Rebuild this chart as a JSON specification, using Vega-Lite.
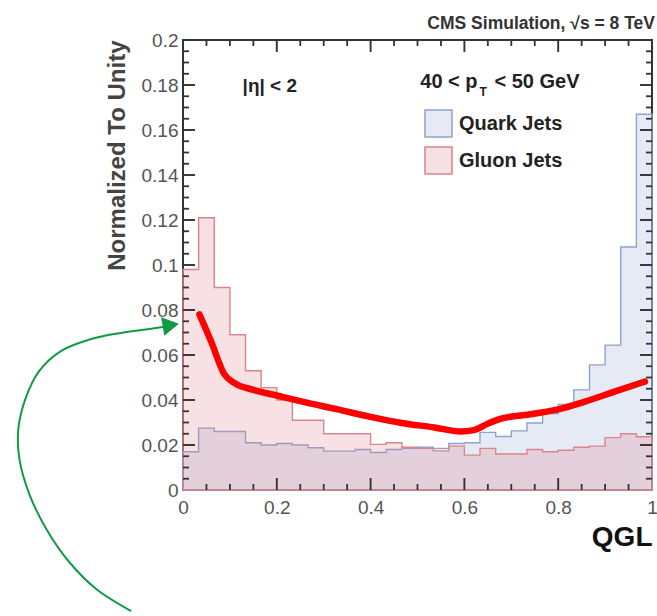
{
  "$schema": "https://vega.github.io/schema/vega-lite/v6.json",
  "autosize": {"type": "none"},
  "padding": {"left": 183, "top": 40, "right": 5, "bottom": 126},
  "width": 469,
  "height": 450,
  "background": "white",
  "title": {"text": "CMS Simulation, √s = 8 TeV", "anchor": "end", "fontSize": 17.5, "fontWeight": "bold", "color": "#333", "offset": 5, "dx": -3, "dy": 6, "font": "Liberation Sans"},
  "config": {
    "view": {"stroke": "#333", "strokeWidth": 2},
    "font": "Liberation Sans",
    "axis": {"grid": false}
  },
  "datasets": {
    "hist": [
      {"qgl": 0, "Quark Jets": 0.017, "Gluon Jets": 0.098},
      {"qgl": 0.0333, "Quark Jets": 0.0275, "Gluon Jets": 0.121},
      {"qgl": 0.0667, "Quark Jets": 0.026, "Gluon Jets": 0.09},
      {"qgl": 0.1, "Quark Jets": 0.026, "Gluon Jets": 0.069},
      {"qgl": 0.1333, "Quark Jets": 0.021, "Gluon Jets": 0.053},
      {"qgl": 0.1667, "Quark Jets": 0.02, "Gluon Jets": 0.0455},
      {"qgl": 0.2, "Quark Jets": 0.0207, "Gluon Jets": 0.04},
      {"qgl": 0.2333, "Quark Jets": 0.02, "Gluon Jets": 0.031},
      {"qgl": 0.2667, "Quark Jets": 0.0188, "Gluon Jets": 0.031},
      {"qgl": 0.3, "Quark Jets": 0.0173, "Gluon Jets": 0.025},
      {"qgl": 0.3333, "Quark Jets": 0.0173, "Gluon Jets": 0.025},
      {"qgl": 0.3667, "Quark Jets": 0.018, "Gluon Jets": 0.025},
      {"qgl": 0.4, "Quark Jets": 0.0167, "Gluon Jets": 0.0203},
      {"qgl": 0.4333, "Quark Jets": 0.018, "Gluon Jets": 0.021},
      {"qgl": 0.4667, "Quark Jets": 0.0185, "Gluon Jets": 0.019},
      {"qgl": 0.5, "Quark Jets": 0.019, "Gluon Jets": 0.0185},
      {"qgl": 0.5333, "Quark Jets": 0.0185, "Gluon Jets": 0.0174},
      {"qgl": 0.5667, "Quark Jets": 0.0207, "Gluon Jets": 0.0195},
      {"qgl": 0.6, "Quark Jets": 0.021, "Gluon Jets": 0.0155},
      {"qgl": 0.6333, "Quark Jets": 0.0256, "Gluon Jets": 0.0185},
      {"qgl": 0.6667, "Quark Jets": 0.0238, "Gluon Jets": 0.016},
      {"qgl": 0.7, "Quark Jets": 0.0263, "Gluon Jets": 0.016},
      {"qgl": 0.7333, "Quark Jets": 0.0298, "Gluon Jets": 0.018},
      {"qgl": 0.7667, "Quark Jets": 0.034, "Gluon Jets": 0.017},
      {"qgl": 0.8, "Quark Jets": 0.038, "Gluon Jets": 0.0177},
      {"qgl": 0.8333, "Quark Jets": 0.0445, "Gluon Jets": 0.019},
      {"qgl": 0.8667, "Quark Jets": 0.0556, "Gluon Jets": 0.0195},
      {"qgl": 0.9, "Quark Jets": 0.0644, "Gluon Jets": 0.0233},
      {"qgl": 0.9333, "Quark Jets": 0.108, "Gluon Jets": 0.025},
      {"qgl": 0.9667, "Quark Jets": 0.167, "Gluon Jets": 0.0237},
      {"qgl": 1, "Quark Jets": 0.167, "Gluon Jets": 0.0237}
    ],
    "curve": [
      {"qgl": 0.035, "frac": 0.078},
      {"qgl": 0.06, "frac": 0.066},
      {"qgl": 0.088, "frac": 0.0515},
      {"qgl": 0.11, "frac": 0.0475},
      {"qgl": 0.15, "frac": 0.0445},
      {"qgl": 0.2, "frac": 0.042},
      {"qgl": 0.25, "frac": 0.0395},
      {"qgl": 0.33, "frac": 0.0358},
      {"qgl": 0.4, "frac": 0.0325},
      {"qgl": 0.466, "frac": 0.0298},
      {"qgl": 0.536, "frac": 0.0278},
      {"qgl": 0.592, "frac": 0.026},
      {"qgl": 0.62, "frac": 0.0266},
      {"qgl": 0.65, "frac": 0.0295},
      {"qgl": 0.675, "frac": 0.0315},
      {"qgl": 0.745, "frac": 0.0338},
      {"qgl": 0.8, "frac": 0.0358},
      {"qgl": 0.857, "frac": 0.0393},
      {"qgl": 0.92, "frac": 0.0437},
      {"qgl": 0.985, "frac": 0.0482}
    ],
    "arrow": [
      {"i": 0, "qgl": -0.1106, "frac": -0.0538},
      {"i": 1, "qgl": -0.1851, "frac": -0.044},
      {"i": 2, "qgl": -0.2426, "frac": -0.032},
      {"i": 3, "qgl": -0.2915, "frac": -0.0173},
      {"i": 4, "qgl": -0.3277, "frac": -0.0018},
      {"i": 5, "qgl": -0.3489, "frac": 0.0138},
      {"i": 6, "qgl": -0.3511, "frac": 0.0271},
      {"i": 7, "qgl": -0.3362, "frac": 0.0404},
      {"i": 8, "qgl": -0.3064, "frac": 0.0529},
      {"i": 9, "qgl": -0.2596, "frac": 0.0618},
      {"i": 10, "qgl": -0.1957, "frac": 0.0671},
      {"i": 11, "qgl": -0.1319, "frac": 0.0698},
      {"i": 12, "qgl": -0.0574, "frac": 0.072},
      {"i": 13, "qgl": -0.035, "frac": 0.0728}
    ],
    "xMajor": [{"v": 0.2}, {"v": 0.4}, {"v": 0.6}, {"v": 0.8}],
    "xMinor": [{"v": 0.05}, {"v": 0.1}, {"v": 0.15}, {"v": 0.25}, {"v": 0.3}, {"v": 0.35}, {"v": 0.45}, {"v": 0.5}, {"v": 0.55}, {"v": 0.65}, {"v": 0.7}, {"v": 0.75}, {"v": 0.85}, {"v": 0.9}, {"v": 0.95}],
    "yMajor": [{"v": 0.02}, {"v": 0.04}, {"v": 0.06}, {"v": 0.08}, {"v": 0.1}, {"v": 0.12}, {"v": 0.14}, {"v": 0.16}, {"v": 0.18}],
    "yMinor": [{"v": 0.005}, {"v": 0.01}, {"v": 0.015}, {"v": 0.025}, {"v": 0.03}, {"v": 0.035}, {"v": 0.045}, {"v": 0.05}, {"v": 0.055}, {"v": 0.065}, {"v": 0.07}, {"v": 0.075}, {"v": 0.085}, {"v": 0.09}, {"v": 0.095}, {"v": 0.105}, {"v": 0.11}, {"v": 0.115}, {"v": 0.125}, {"v": 0.13}, {"v": 0.135}, {"v": 0.145}, {"v": 0.15}, {"v": 0.155}, {"v": 0.165}, {"v": 0.17}, {"v": 0.175}, {"v": 0.185}, {"v": 0.19}, {"v": 0.195}]
  },
  "resolve": {"scale": {"x": "independent", "y": "independent"}, "axis": {"x": "independent", "y": "independent"}},
  "layer": [
    {
      "data": {"name": "hist"},
      "transform": [{"fold": ["Quark Jets", "Gluon Jets"], "as": ["jet", "frac"]}],
      "mark": {"type": "area", "interpolate": "step-after", "strokeWidth": 1.4},
      "encoding": {
        "x": {"field": "qgl", "type": "quantitative", "scale": {"domain": [0, 1], "nice": false, "zero": false},
          "axis": {"orient": "bottom", "values": [0, 0.2, 0.4, 0.6, 0.8, 1], "format": "~g", "ticks": false, "domain": false, "grid": false, "labelFlush": false, "labelFontSize": 19, "labelColor": "#555", "labelPadding": 8, "title": "QGL", "titleAnchor": "end", "titleFontSize": 28, "titleFontWeight": "bold", "titleColor": "#111", "titlePadding": 6}},
        "y": {"field": "frac", "type": "quantitative", "stack": null, "scale": {"domain": [0, 0.2], "nice": false, "zero": false},
          "axis": {"orient": "left", "values": [0, 0.02, 0.04, 0.06, 0.08, 0.1, 0.12, 0.14, 0.16, 0.18, 0.2], "format": "~g", "ticks": false, "domain": false, "grid": false, "labelFlush": false, "labelFontSize": 19, "labelColor": "#555", "labelPadding": 5, "title": "Normalized To Unity", "titleAnchor": "end", "titleFontSize": 24, "titleFontWeight": "bold", "titleColor": "#444", "titlePadding": 12}},
        "fill": {"field": "jet", "type": "nominal", "scale": {"domain": ["Quark Jets", "Gluon Jets"], "range": ["rgba(140,160,205,0.22)", "rgba(222,120,130,0.22)"]},
          "legend": {"title": null, "orient": "none", "legendX": 241, "legendY": 69, "symbolType": "square", "symbolSize": 729, "symbolStrokeWidth": 1.5, "labelFontSize": 20, "labelFontWeight": "bold", "labelColor": "#222", "rowPadding": 4, "labelOffset": 6, "padding": 0}},
        "stroke": {"field": "jet", "type": "nominal", "scale": {"domain": ["Quark Jets", "Gluon Jets"], "range": ["#8fa3cc", "#d9858c"]},
          "legend": {"title": null, "orient": "none", "legendX": 241, "legendY": 69, "symbolType": "square", "symbolSize": 729, "symbolStrokeWidth": 1.5, "labelFontSize": 20, "labelFontWeight": "bold", "labelColor": "#222", "rowPadding": 4, "labelOffset": 6, "padding": 0}}
      }
    },
    {
      "data": {"name": "yMajor"},
      "mark": {"type": "point", "shape": "M0,-0.16L2,-0.16L2,0.16L0,0.16Z", "size": 144, "filled": true, "color": "#333", "opacity": 1},
      "encoding": {
        "y": {"field": "v", "type": "quantitative", "scale": {"domain": [0, 0.2], "nice": false, "zero": false}, "axis": null},
        "x": {"datum": 0, "type": "quantitative", "scale": {"domain": [0, 1], "nice": false, "zero": false}, "axis": null}
      }
    },
    {
      "data": {"name": "yMajor"},
      "mark": {"type": "point", "shape": "M0,-0.16L-2,-0.16L-2,0.16L0,0.16Z", "size": 144, "filled": true, "color": "#333", "opacity": 1},
      "encoding": {
        "y": {"field": "v", "type": "quantitative", "scale": {"domain": [0, 0.2], "nice": false, "zero": false}, "axis": null},
        "x": {"datum": 1, "type": "quantitative", "scale": {"domain": [0, 1], "nice": false, "zero": false}, "axis": null}
      }
    },
    {
      "data": {"name": "yMinor"},
      "mark": {"type": "point", "shape": "M0,-0.3L2,-0.3L2,0.3L0,0.3Z", "size": 36, "filled": true, "color": "#333", "opacity": 1},
      "encoding": {
        "y": {"field": "v", "type": "quantitative", "scale": {"domain": [0, 0.2], "nice": false, "zero": false}, "axis": null},
        "x": {"datum": 0, "type": "quantitative", "scale": {"domain": [0, 1], "nice": false, "zero": false}, "axis": null}
      }
    },
    {
      "data": {"name": "yMinor"},
      "mark": {"type": "point", "shape": "M0,-0.3L-2,-0.3L-2,0.3L0,0.3Z", "size": 36, "filled": true, "color": "#333", "opacity": 1},
      "encoding": {
        "y": {"field": "v", "type": "quantitative", "scale": {"domain": [0, 0.2], "nice": false, "zero": false}, "axis": null},
        "x": {"datum": 1, "type": "quantitative", "scale": {"domain": [0, 1], "nice": false, "zero": false}, "axis": null}
      }
    },
    {
      "data": {"name": "xMajor"},
      "mark": {"type": "point", "shape": "M-0.16,0L0.16,0L0.16,-2L-0.16,-2Z", "size": 144, "filled": true, "color": "#333", "opacity": 1},
      "encoding": {
        "x": {"field": "v", "type": "quantitative", "scale": {"domain": [0, 1], "nice": false, "zero": false}, "axis": null},
        "y": {"datum": 0, "type": "quantitative", "scale": {"domain": [0, 0.2], "nice": false, "zero": false}, "axis": null}
      }
    },
    {
      "data": {"name": "xMajor"},
      "mark": {"type": "point", "shape": "M-0.16,0L0.16,0L0.16,2L-0.16,2Z", "size": 144, "filled": true, "color": "#333", "opacity": 1},
      "encoding": {
        "x": {"field": "v", "type": "quantitative", "scale": {"domain": [0, 1], "nice": false, "zero": false}, "axis": null},
        "y": {"datum": 0.2, "type": "quantitative", "scale": {"domain": [0, 0.2], "nice": false, "zero": false}, "axis": null}
      }
    },
    {
      "data": {"name": "xMinor"},
      "mark": {"type": "point", "shape": "M-0.3,0L0.3,0L0.3,-2L-0.3,-2Z", "size": 36, "filled": true, "color": "#333", "opacity": 1},
      "encoding": {
        "x": {"field": "v", "type": "quantitative", "scale": {"domain": [0, 1], "nice": false, "zero": false}, "axis": null},
        "y": {"datum": 0, "type": "quantitative", "scale": {"domain": [0, 0.2], "nice": false, "zero": false}, "axis": null}
      }
    },
    {
      "data": {"name": "xMinor"},
      "mark": {"type": "point", "shape": "M-0.3,0L0.3,0L0.3,2L-0.3,2Z", "size": 36, "filled": true, "color": "#333", "opacity": 1},
      "encoding": {
        "x": {"field": "v", "type": "quantitative", "scale": {"domain": [0, 1], "nice": false, "zero": false}, "axis": null},
        "y": {"datum": 0.2, "type": "quantitative", "scale": {"domain": [0, 0.2], "nice": false, "zero": false}, "axis": null}
      }
    },
    {
      "data": {"name": "curve"},
      "mark": {"type": "line", "interpolate": "monotone", "color": "#ff0000", "strokeWidth": 6.5, "strokeCap": "round"},
      "encoding": {
        "x": {"field": "qgl", "type": "quantitative", "scale": {"domain": [0, 1], "nice": false, "zero": false}, "axis": null},
        "y": {"field": "frac", "type": "quantitative", "scale": {"domain": [0, 0.2], "nice": false, "zero": false}, "axis": null}
      }
    },
    {
      "data": {"name": "arrow"},
      "mark": {"type": "line", "interpolate": "catmull-rom", "color": "#119a45", "strokeWidth": 2},
      "encoding": {
        "x": {"field": "qgl", "type": "quantitative", "scale": {"domain": [0, 1], "nice": false, "zero": false}, "axis": null},
        "y": {"field": "frac", "type": "quantitative", "scale": {"domain": [0, 0.2], "nice": false, "zero": false}, "axis": null},
        "order": {"field": "i", "type": "quantitative"}
      }
    },
    {
      "data": {"values": [{"label": "arrowhead"}]},
      "mark": {"type": "point", "shape": "triangle-right", "filled": true, "color": "#119a45", "size": 360, "angle": -10, "opacity": 1},
      "encoding": {
        "x": {"datum": -0.026, "type": "quantitative", "scale": {"domain": [0, 1], "nice": false, "zero": false}, "axis": null},
        "y": {"datum": 0.0733, "type": "quantitative", "scale": {"domain": [0, 0.2], "nice": false, "zero": false}, "axis": null}
      }
    },
    {
      "data": {"values": [{"label": "|η| < 2"}]},
      "mark": {"type": "text", "align": "left", "baseline": "middle", "fontSize": 19, "fontWeight": "bold", "color": "#222"},
      "encoding": {
        "x": {"datum": 0.127, "type": "quantitative", "scale": {"domain": [0, 1], "nice": false, "zero": false}, "axis": null},
        "y": {"datum": 0.1796, "type": "quantitative", "scale": {"domain": [0, 0.2], "nice": false, "zero": false}, "axis": null},
        "text": {"field": "label"}
      }
    },
    {
      "data": {"values": [{"label": "40 < p"}]},
      "mark": {"type": "text", "align": "left", "baseline": "middle", "fontSize": 20, "fontWeight": "bold", "color": "#222"},
      "encoding": {
        "x": {"datum": 0.506, "type": "quantitative", "scale": {"domain": [0, 1], "nice": false, "zero": false}, "axis": null},
        "y": {"datum": 0.1813, "type": "quantitative", "scale": {"domain": [0, 0.2], "nice": false, "zero": false}, "axis": null},
        "text": {"field": "label"}
      }
    },
    {
      "data": {"values": [{"label": "T"}]},
      "mark": {"type": "text", "align": "left", "baseline": "middle", "fontSize": 12, "fontWeight": "bold", "color": "#222"},
      "encoding": {
        "x": {"datum": 0.632, "type": "quantitative", "scale": {"domain": [0, 1], "nice": false, "zero": false}, "axis": null},
        "y": {"datum": 0.1769, "type": "quantitative", "scale": {"domain": [0, 0.2], "nice": false, "zero": false}, "axis": null},
        "text": {"field": "label"}
      }
    },
    {
      "data": {"values": [{"label": "< 50 GeV"}]},
      "mark": {"type": "text", "align": "left", "baseline": "middle", "fontSize": 20, "fontWeight": "bold", "color": "#222"},
      "encoding": {
        "x": {"datum": 0.664, "type": "quantitative", "scale": {"domain": [0, 1], "nice": false, "zero": false}, "axis": null},
        "y": {"datum": 0.1813, "type": "quantitative", "scale": {"domain": [0, 0.2], "nice": false, "zero": false}, "axis": null},
        "text": {"field": "label"}
      }
    }
  ]
}
